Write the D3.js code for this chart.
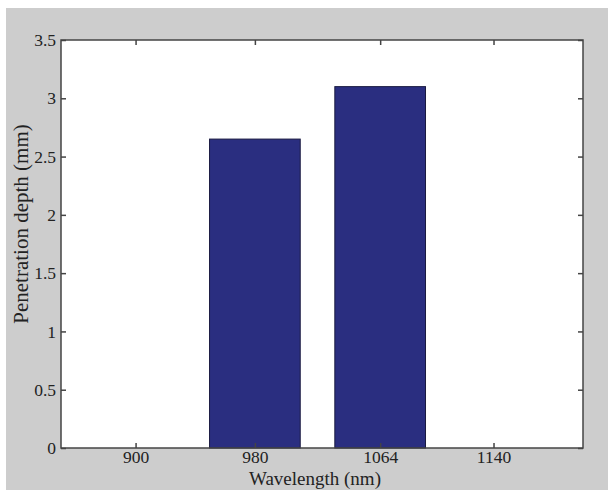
<!DOCTYPE html>
<html lang="en">
<head>
<meta charset="utf-8">
<title>Penetration depth</title>
<script src="https://d3js.org/d3.v7.min.js"></script>
<style>
  body { margin: 0; background: #fff; overflow: hidden; }
  text { font-family: "Liberation Serif", serif; fill: #222; }
</style>
</head>
<body>
<div class="chart"></div>
<script>
// values
const wavelengths = [900, 980, 1064, 1140];
const depths = [0, 2.65, 3.1, 0];
const yTicks = [0, 0.5, 1, 1.5, 2, 2.5, 3, 3.5];

const width = 608;
const height = 490;
const margin = {top: 40, right: 25, bottom: 42, left: 61};

const svg = d3.select('.chart')
  .append('svg')
  .attr('width', width)
  .attr('height', height)
  .style('display', 'block');

// gray figure background
svg.append('rect')
  .attr('x', 6).attr('y', 8)
  .attr('width', width - 6).attr('height', height - 8)
  .attr('fill', '#cdcdcd');

const x = d3.scaleLinear()
  .domain([850, 1200])
  .range([margin.left, width - margin.right]);

const y = d3.scaleLinear()
  .domain([0, 3.5])
  .range([height - margin.bottom, margin.top]);

// white axes area
svg.append('rect')
  .attr('x', x(850)).attr('y', y(3.5))
  .attr('width', x(1200) - x(850)).attr('height', y(0) - y(3.5))
  .attr('fill', '#fff');

// bar width like matlab: 0.8 of smallest spacing
const barW = 0.8 * d3.min(d3.pairs(wavelengths), p => p[1] - p[0]);

svg.selectAll('rect.bar')
  .data(wavelengths.map((w, i) => ({w: w, d: depths[i]})).filter(d => d.d > 0))
  .enter()
  .append('rect')
  .attr('class', 'bar')
  .attr('x', d => x(d.w - barW / 2))
  .attr('y', d => y(d.d))
  .attr('width', d => x(d.w + barW / 2) - x(d.w - barW / 2))
  .attr('height', d => y(0) - y(d.d))
  .attr('fill', '#2a2e80')
  .attr('stroke', '#1a1a40')
  .attr('stroke-width', 1);

const tickLen = 5;
const axisColor = '#444';

// bottom / top
svg.append('g')
  .attr('transform', `translate(0,${y(0)})`)
  .call(d3.axisBottom(x).tickValues(wavelengths).tickFormat(d3.format('d')).tickSizeInner(-tickLen).tickSizeOuter(0).tickPadding(3))
  .call(g => g.select('.domain').remove());
svg.append('g')
  .attr('transform', `translate(0,${y(3.5)})`)
  .call(d3.axisTop(x).tickValues(wavelengths).tickFormat('').tickSizeInner(-tickLen).tickSizeOuter(0))
  .call(g => g.select('.domain').remove());

// left / right
svg.append('g')
  .attr('transform', `translate(${x(850)},0)`)
  .call(d3.axisLeft(y).tickValues(yTicks).tickFormat(d => d).tickSizeInner(-tickLen).tickSizeOuter(0).tickPadding(5))
  .call(g => g.select('.domain').remove());
svg.append('g')
  .attr('transform', `translate(${x(1200)},0)`)
  .call(d3.axisRight(y).tickValues(yTicks).tickFormat('').tickSizeInner(-tickLen).tickSizeOuter(0))
  .call(g => g.select('.domain').remove());

svg.selectAll('.tick line').attr('stroke', axisColor).attr('stroke-width', 1.5);
svg.selectAll('.tick text').attr('font-size', 17.5).attr('fill', '#222');

// box
svg.append('rect')
  .attr('x', x(850)).attr('y', y(3.5))
  .attr('width', x(1200) - x(850)).attr('height', y(0) - y(3.5))
  .attr('fill', 'none')
  .attr('stroke', axisColor)
  .attr('stroke-width', 1.5);

svg.append('text')
  .attr('x', 315)
  .attr('y', 484.5)
  .attr('text-anchor', 'middle')
  .attr('font-size', 19)
  .text('Wavelength (nm)');

svg.append('text')
  .attr('transform', 'translate(28,224) rotate(-90)')
  .attr('text-anchor', 'middle')
  .attr('font-size', 21)
  .text('Penetration depth (mm)');
</script>
</body>
</html>
